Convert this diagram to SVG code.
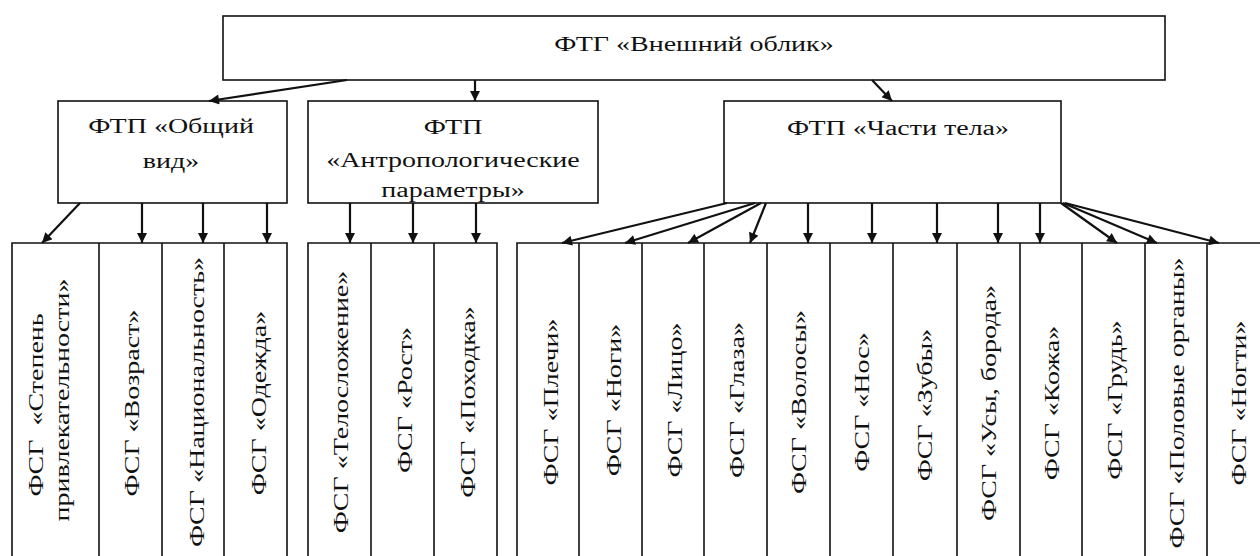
<svg xmlns="http://www.w3.org/2000/svg" width="1260" height="556" viewBox="0 0 1260 556">
<style>
.box{fill:#fff;stroke:#111;stroke-width:1.6}
.col{fill:none;stroke:#111;stroke-width:1.6}
.t{font-family:"Liberation Serif","Times New Roman",serif;font-size:20px;fill:#111;text-anchor:middle}
.c{stroke:#111;stroke-width:2.2;fill:none;marker-end:url(#ah)}
</style>
<defs>
<marker id="ah" viewBox="0 0 10 10" refX="10" refY="5" markerWidth="11" markerHeight="10" markerUnits="userSpaceOnUse" orient="auto">
<path d="M0,0 L10,5 L0,10 z" fill="#111"/>
</marker>
</defs>
<rect width="1260" height="556" fill="#fff"/>

<g id="ftg-vneshniy-oblik">
<rect class="box" x="223" y="16" width="942" height="64"/>
<text class="t" transform="translate(694,51) scale(1.4,1)">ФТГ «Внешний облик»</text>
</g>

<g id="ftp-obshchiy-vid">
<rect class="box" x="58" y="101" width="229" height="102"/>
<text class="t" transform="translate(171,133) scale(1.4,1)">ФТП «Общий</text>
<text class="t" transform="translate(171,168) scale(1.4,1)">вид»</text>
</g>

<g id="ftp-antropologicheskie">
<rect class="box" x="308" y="101" width="290" height="102"/>
<text class="t" transform="translate(453,134) scale(1.4,1)">ФТП</text>
<text class="t" transform="translate(453,167) scale(1.4,1)">«Антропологические</text>
<text class="t" transform="translate(453,197) scale(1.4,1)">параметры»</text>
</g>

<g id="ftp-chasti-tela">
<rect class="box" x="724" y="101" width="337" height="102"/>
<text class="t" transform="translate(898,135) scale(1.4,1)">ФТП «Части тела»</text>
</g>

<g id="columns-obshchiy-vid">
<path class="col" d="M12,600 V243 H287 V600 M99,243 V600 M162,243 V600 M224,243 V600"/>
</g>
<g id="fsg-stepen">
<text class="t" transform="translate(43,405) rotate(-90) scale(1.4,1)">ФСГ &#160;«Степень</text>
<text class="t" transform="translate(69,400) rotate(-90) scale(1.4,1)">привлекательности»</text>
</g>
<g id="fsg-vozrast"><text class="t" transform="translate(139,403) rotate(-90) scale(1.4,1)">ФСГ «Возраст»</text></g>
<g id="fsg-natsionalnost"><text class="t" transform="translate(204,402) rotate(-90) scale(1.4,1)">ФСГ «Национальность»</text></g>
<g id="fsg-odezhda"><text class="t" transform="translate(266,403) rotate(-90) scale(1.4,1)">ФСГ «Одежда»</text></g>

<g id="columns-antropolog">
<path class="col" d="M308,600 V243 H497 V600 M371,243 V600 M434,243 V600"/>
</g>
<g id="fsg-teloslozhenie"><text class="t" transform="translate(348,402) rotate(-90) scale(1.4,1)">ФСГ «Телосложение»</text></g>
<g id="fsg-rost"><text class="t" transform="translate(412,400) rotate(-90) scale(1.4,1)">ФСГ «Рост»</text></g>
<g id="fsg-pokhodka"><text class="t" transform="translate(475,402) rotate(-90) scale(1.4,1)">ФСГ «Походка»</text></g>

<g id="columns-chasti-tela">
<path class="col" d="M517,600 V243 H1262 M579,243 V600 M642,243 V600 M704,243 V600 M767,243 V600 M830,243 V600 M893,243 V600 M957,243 V600 M1020,243 V600 M1082,243 V600 M1145,243 V600 M1207,243 V600"/>
</g>
<g id="fsg-plechi"><text class="t" transform="translate(558,402) rotate(-90) scale(1.4,1)">ФСГ «Плечи»</text></g>
<g id="fsg-nogi"><text class="t" transform="translate(621,400) rotate(-90) scale(1.4,1)">ФСГ «Ноги»</text></g>
<g id="fsg-litso"><text class="t" transform="translate(682,400) rotate(-90) scale(1.4,1)">ФСГ «Лицо»</text></g>
<g id="fsg-glaza"><text class="t" transform="translate(744,400) rotate(-90) scale(1.4,1)">ФСГ «Глаза»</text></g>
<g id="fsg-volosy"><text class="t" transform="translate(806,402) rotate(-90) scale(1.4,1)">ФСГ «Волосы»</text></g>
<g id="fsg-nos"><text class="t" transform="translate(869,402) rotate(-90) scale(1.4,1)">ФСГ «Нос»</text></g>
<g id="fsg-zuby"><text class="t" transform="translate(932,405) rotate(-90) scale(1.4,1)">ФСГ «Зубы»</text></g>
<g id="fsg-usy-boroda"><text class="t" transform="translate(996,403) rotate(-90) scale(1.4,1)">ФСГ «Усы, борода»</text></g>
<g id="fsg-kozha"><text class="t" transform="translate(1059,403) rotate(-90) scale(1.4,1)">ФСГ «Кожа»</text></g>
<g id="fsg-grud"><text class="t" transform="translate(1122,400) rotate(-90) scale(1.4,1)">ФСГ «Грудь»</text></g>
<g id="fsg-polovye-organy"><text class="t" transform="translate(1184,403) rotate(-90) scale(1.4,1)">ФСГ «Половые органы»</text></g>
<g id="fsg-nogti"><text class="t" transform="translate(1246,403) rotate(-90) scale(1.4,1)">ФСГ «Ногти»</text></g>

<g id="connectors">
<line class="c" x1="347" y1="80" x2="209" y2="101"/>
<line class="c" x1="475" y1="80" x2="475" y2="101"/>
<line class="c" x1="872" y1="80" x2="892" y2="101"/>

<line class="c" x1="80" y1="203" x2="42" y2="243"/>
<line class="c" x1="142" y1="203" x2="142" y2="243"/>
<line class="c" x1="203" y1="203" x2="203" y2="243"/>
<line class="c" x1="267" y1="203" x2="267" y2="243"/>

<line class="c" x1="350" y1="203" x2="350" y2="243"/>
<line class="c" x1="413" y1="203" x2="413" y2="243"/>
<line class="c" x1="476" y1="203" x2="476" y2="243"/>

<line class="c" x1="727" y1="203" x2="562" y2="243"/>
<line class="c" x1="755" y1="203" x2="625" y2="243"/>
<line class="c" x1="761" y1="203" x2="688" y2="243"/>
<line class="c" x1="766" y1="203" x2="750" y2="243"/>
<line class="c" x1="808" y1="203" x2="808" y2="243"/>
<line class="c" x1="872" y1="203" x2="872" y2="243"/>
<line class="c" x1="937" y1="203" x2="937" y2="243"/>
<line class="c" x1="998" y1="203" x2="998" y2="243"/>
<line class="c" x1="1040" y1="203" x2="1040" y2="243"/>
<line class="c" x1="1061" y1="203" x2="1117" y2="243"/>
<line class="c" x1="1063" y1="203" x2="1157" y2="243"/>
<line class="c" x1="1065" y1="203" x2="1219" y2="243"/>
</g>
</svg>
